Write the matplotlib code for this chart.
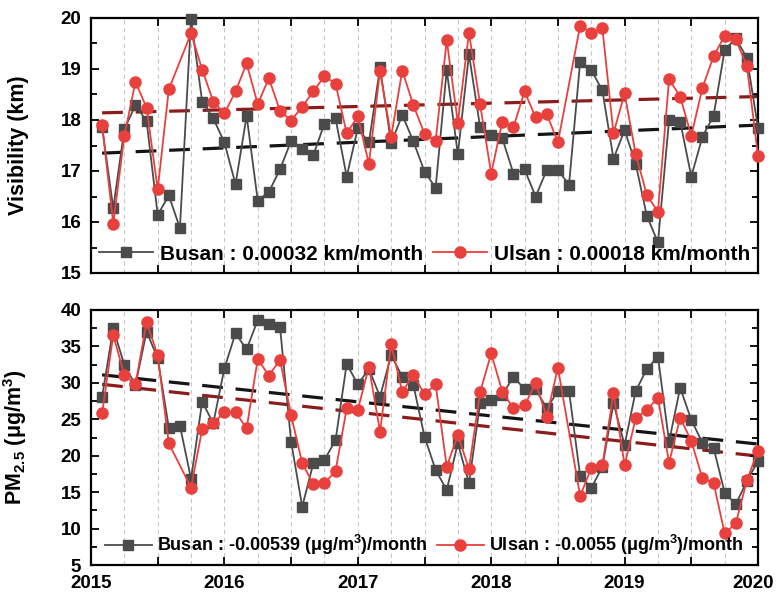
import numpy as np
import matplotlib
matplotlib.use("Agg")
import matplotlib.pyplot as plt
import matplotlib.transforms as mtransforms
from matplotlib.ticker import MultipleLocator, FixedLocator, FuncFormatter

plt.rcParams['font.family'] = ['Liberation Sans', 'DejaVu Sans']
plt.rcParams['font.weight'] = 'bold'
plt.rcParams['mathtext.fontset'] = 'custom'
plt.rcParams['mathtext.rm'] = 'Liberation Sans:bold'
plt.rcParams['mathtext.bf'] = 'Liberation Sans:bold'
plt.rcParams['mathtext.it'] = 'Liberation Sans:bold:italic'
plt.rcParams['mathtext.default'] = 'regular'

# ---------------- data ----------------
months = np.arange(1, 61)  # Jan 2015 .. Dec 2019 (plotted at 2015 + m/12)
nan = np.nan

busan_vis = [17.86, 16.27, 17.82, 18.29, 17.98, 16.14, 16.52, 15.88, 19.98, 18.36, 18.03, 17.56,
             16.74, 18.08, 16.42, 16.59, 17.03, 17.59, 17.44, 17.31, 17.93, 18.03, 16.89, 17.84,
             17.56, 19.03, 17.54, 18.10, 17.58, 16.99, 16.67, 18.98, 17.33, 19.29, 17.86, 17.71,
             17.64, 16.95, 17.03, 16.50, 17.02, 17.02, 16.73, 19.14, 18.98, 18.58, 17.24, 17.80,
             17.14, 16.12, 15.60, 18.00, 17.97, 16.89, 17.67, 18.08, 19.37, 19.60, 19.22, 17.85]
ulsan_vis = [17.90, 15.97, 17.69, 18.75, 18.24, 16.64, 18.60, nan, 19.70, 18.99, 18.36, 18.13,
             18.56, 19.11, 18.31, 18.82, 18.18, 17.99, 18.26, 18.56, 18.86, 18.71, 17.74, 18.07,
             17.14, 18.96, 17.67, 18.97, 18.29, 17.73, 17.59, 19.56, 17.95, 19.71, 18.31, 16.95,
             17.97, 17.86, 18.56, 18.05, 18.12, 17.56, nan, 19.85, 19.71, 19.80, 17.74, 18.52,
             17.33, 16.53, 16.20, 18.80, 18.46, 17.69, 18.63, 19.25, 19.65, 19.58, 19.06, 17.30]

busan_pm = [28.11, 37.48, 32.45, 29.71, 37.03, 33.37, 23.85, 24.13, 16.81, 27.42, 24.45, 31.99,
            36.80, 34.60, 38.63, 38.03, 37.71, 21.93, 13.01, 18.96, 19.41, 22.16, 32.59, 29.80,
            31.90, 28.11, 33.82, 30.85, 29.71, 22.62, 18.04, 15.30, 21.70, 16.21, 27.19, 27.65,
            28.33, 30.85, 29.11, 29.11, 26.50, 28.88, 28.88, 17.26, 15.53, 18.50, 27.19, 21.47,
            28.88, 31.90, 33.60, 21.93, 29.34, 24.90, 21.80, 21.10, 14.93, 13.33, 16.50, 19.30]
ulsan_pm = [25.82, 36.57, 31.08, 29.80, 38.31, 33.82, 21.70, nan, 15.62, 23.62, 24.45, 25.96,
            25.96, 23.76, 33.28, 30.99, 33.14, 25.59, 18.96, 16.10, 16.21, 17.90, 26.50, 26.28,
            32.22, 23.30, 35.29, 28.79, 31.08, 28.43, 29.80, 18.50, 22.84, 18.18, 28.70, 34.05,
            28.79, 26.50, 26.90, 29.94, 25.36, 32.09, nan, 14.47, 18.27, 18.73, 28.56, 18.73,
            25.13, 26.28, 27.97, 19.05, 25.22, 22.02, 16.90, 16.30, 9.35, 10.70, 16.60, 20.70]

# linear trend end values (first month, last month)
busan_vis_trend = [17.35, 17.90]
ulsan_vis_trend = [18.14, 18.46]
busan_pm_trend = [31.10, 21.60]
ulsan_pm_trend = [29.80, 19.95]

vis_labels = ["Busan : 0.00032 km/month", "Ulsan : 0.00018 km/month"]
pm_labels = ["Busan : -0.00539 (\u03bcg/m$^3$)/month", "Ulsan : -0.0055 (\u03bcg/m$^3$)/month"]
year_labels = ["2015", "2016", "2017", "2018", "2019", "2020"]

# ---------------- style ----------------
GRAY = '#4b4b4b'
RED = '#e8403d'
TBLACK = '#151515'
TRED = '#8c1c1c'

x = 2015 + months / 12.0

fig = plt.figure(figsize=(7.77, 5.99), dpi=100)
W, H = 777, 599
ax1 = fig.add_axes([91 / W, 1 - 273 / H, (758 - 91) / W, (273 - 18) / H])
ax2 = fig.add_axes([91 / W, 1 - 565 / H, (758 - 91) / W, (565 - 310) / H])


def draw(ax, b, u, bt, ut, labels, ylim, major, minor, fs_leg, pad_leg):
    b = np.asarray(b, float)
    u = np.asarray(u, float)
    # grid (quarter years)
    for gx in np.arange(2015.25, 2020, 0.25):
        ax.axvline(gx, color='#c8c8c8', lw=0.8, ls=(0, (4, 3)), zorder=0)
    # trends
    tx = [x[0], x[-1]]
    ax.plot(tx, bt, color=TBLACK, lw=2.3, dashes=(6.5, 4), zorder=1)
    ax.plot(tx, ut, color=TRED, lw=2.3, dashes=(6.5, 4), zorder=1)
    mb = ~np.isnan(b)
    mu = ~np.isnan(u)
    hb, = ax.plot(x[mb], b[mb], color=GRAY, lw=1.3, marker='s', ms=6.8,
                  mfc=GRAY, mec=GRAY, zorder=3, clip_on=False)
    hu, = ax.plot(x[mu], u[mu], color=RED, lw=1.3, marker='o', ms=8,
                  mfc=RED, mec=RED, zorder=4, clip_on=False)
    ax.set_xlim(2015, 2020)
    ax.set_ylim(*ylim)
    ax.yaxis.set_major_locator(MultipleLocator(major))
    ax.yaxis.set_minor_locator(MultipleLocator(minor))
    ax.xaxis.set_major_locator(FixedLocator(np.arange(2015, 2020.01, 0.5)))
    ax.tick_params(axis='both', which='both', direction='in', top=True, right=True,
                   width=1.3, labelsize=13.5)
    ax.tick_params(axis='both', which='major', length=6)
    ax.tick_params(axis='y', which='minor', length=4)
    ax.tick_params(axis='y', pad=7)
    ax.tick_params(axis='x', pad=7)
    for s in ax.spines.values():
        s.set_linewidth(1.6)
    for lab in ax.get_yticklabels():
        lab.set_fontweight('bold')
    leg = ax.legend([hb, hu], labels, loc='lower center', ncol=2, frameon=False,
                    prop={'size': fs_leg, 'weight': 'bold'}, handlelength=2.6,
                    handletextpad=0.3, columnspacing=0.5, borderaxespad=pad_leg,
                    bbox_to_anchor=(0.5, 0.0))
    return leg


draw(ax1, busan_vis, ulsan_vis, busan_vis_trend, ulsan_vis_trend, vis_labels,
     (15, 20), 1, 0.5, 15, 0.05)
draw(ax2, busan_pm, ulsan_pm, busan_pm_trend, ulsan_pm_trend, pm_labels,
     (5, 40), 5, 2.5, 13, 0.05)

ax1.xaxis.set_major_formatter(FuncFormatter(lambda v, p: ''))
ax2.xaxis.set_major_formatter(FuncFormatter(
    lambda v, p: year_labels[int(round(v)) - 2015] if abs(v - round(v)) < 1e-6 else ''))

fig.canvas.draw()
ticklabs = ax2.get_xticklabels()
for lab in ticklabs:
    lab.set_fontweight('bold')
# nudge the last year label so it stays inside the figure
last = ticklabs[-1]
last.set_transform(last.get_transform() +
                   mtransforms.ScaledTranslation(-5 / 100, 0, fig.dpi_scale_trans))

ax1.set_ylabel("Visibility (km)", fontsize=15.5, fontweight='bold')
ax2.set_ylabel("PM$_{2.5}$ (\u03bcg/m$^3$)", fontsize=15.5, fontweight='bold')
ax1.yaxis.set_label_coords(-0.093, 0.5)
ax2.yaxis.set_label_coords(-0.093, 0.5)

fig.savefig("out.png", dpi=100)
